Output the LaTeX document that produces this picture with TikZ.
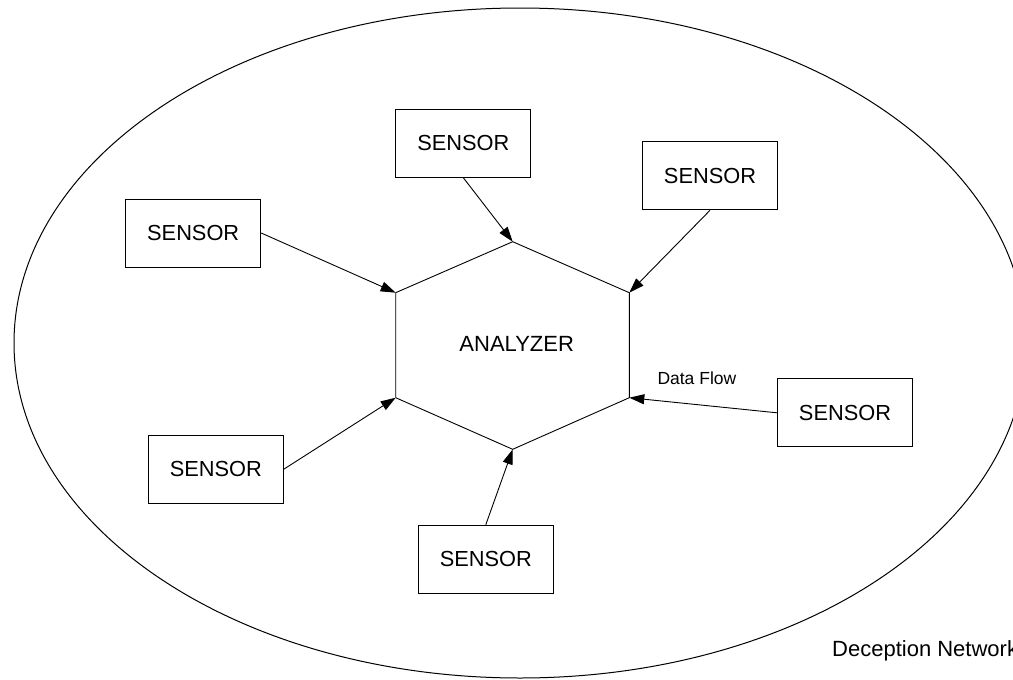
\documentclass[tikz,border=0pt]{standalone}
\usepackage{fontspec}
\setmainfont{Liberation Sans}
\usetikzlibrary{arrows.meta}
\begin{document}
\begin{tikzpicture}[x=1pt,y=-1pt,
  sensorbox/.style={draw, line width=1pt, minimum width=135pt, minimum height=68pt, inner sep=0pt, font=\fontsize{21.8}{26}\selectfont},
  flow/.style={line width=0.9pt, -{Triangle[length=15pt,width=10pt]}},
  plain/.style={inner sep=0pt}]
\clip (0,0) rectangle (1013,680);
% network boundary
\draw[line width=1pt] (520,343) ellipse [x radius=506, y radius=335];
% analyzer hexagon
\coordinate (h1) at (512.7,241.7);
\coordinate (h2) at (629.3,292.7);
\coordinate (h3) at (629.3,397.7);
\coordinate (h4) at (512.7,449.3);
\coordinate (h5) at (395.7,397.7);
\coordinate (h6) at (395.7,292.7);
\draw[line width=0.9pt] (h1) -- (h2) -- (h3) -- (h4) -- (h5) -- (h6) -- cycle;
\node[plain, font=\fontsize{22}{26}\selectfont] (an) at (516.7,344.2) {ANALYZER};
% sensors
\node[sensorbox] (s1) at (463.3,143.2) {SENSOR};
\node[sensorbox] (s2) at (710,175.8) {SENSOR};
\node[sensorbox] (s3) at (193.2,233) {SENSOR};
\node[sensorbox] (s4) at (215.8,469.2) {SENSOR};
\node[sensorbox] (s5) at (485.8,559.2) {SENSOR};
\node[sensorbox] (s6) at (845,412.8) {SENSOR};
% data flows
\draw[flow] (s1.south) -- (h1);
\draw[flow] (s2.south) -- (h2);
\draw[flow] (s3.east) -- (h6);
\draw[flow] (s4.east) -- (h5);
\draw[flow] (s5.north) -- (h4);
\draw[flow] (s6.west) -- (h3);
% labels
\node[plain, anchor=base west, font=\fontsize{17.5}{21}\selectfont] (df) at (657.3,384) {Data Flow};
\node[plain, anchor=base west, font=\fontsize{22}{26}\selectfont] (dn) at (832,656) {Deception Network};
\end{tikzpicture}
\end{document}
